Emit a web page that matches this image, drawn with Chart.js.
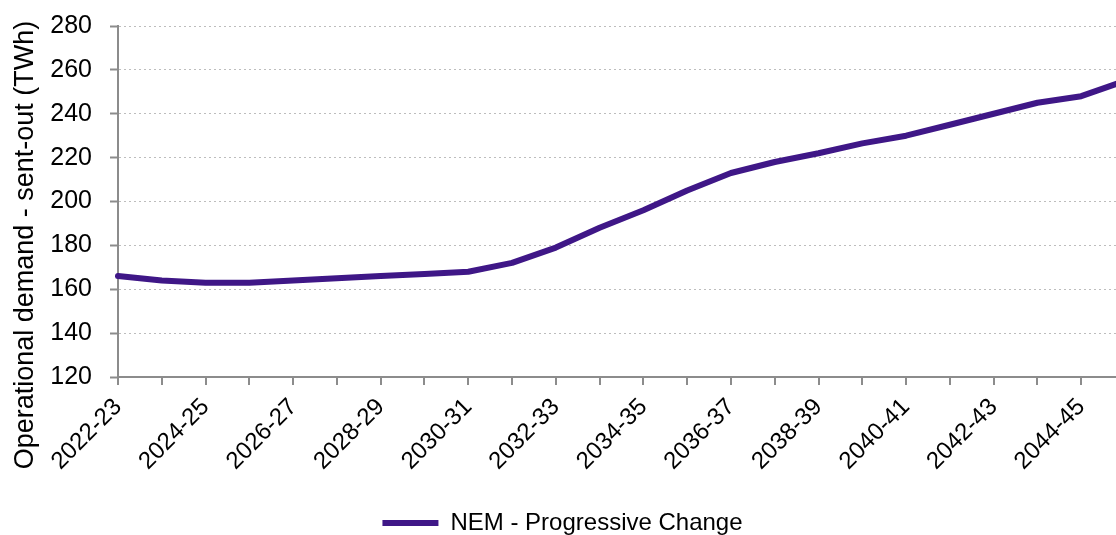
<!DOCTYPE html>
<html>
<head>
<meta charset="utf-8">
<script src="https://cdn.jsdelivr.net/npm/chart.js@4/dist/chart.umd.min.js"></script>
<style>
  html, body { margin: 0; padding: 0; background: #fff; overflow: hidden; }
  #wrap { width: 1116px; height: 535px; overflow: hidden; }
  #box { width: 1160px; height: 535px; }
</style>
</head>
<body>
<div id="wrap"><div id="box"><canvas id="demand"></canvas></div></div>
<script>
var years = ["2022-23", "2023-24", "2024-25", "2025-26", "2026-27", "2027-28", "2028-29", "2029-30",
  "2030-31", "2031-32", "2032-33", "2033-34", "2034-35", "2035-36", "2036-37", "2037-38",
  "2038-39", "2039-40", "2040-41", "2041-42", "2042-43", "2043-44", "2044-45", "2045-46"];
var progressiveChange = [166, 164, 163, 163, 164, 165, 166, 167, 168, 172, 179, 188,
  196, 205, 213, 218, 222, 226.5, 230, 235, 240, 245, 248, 255];
var yTicks = [120, 140, 160, 180, 200, 220, 240, 260, 280];
var yTitle = "Operational demand - sent-out (TWh)";

var font = "'Liberation Sans', Arial, sans-serif";
var purple = "#3f1787";
var axisGrey = "#8c8c8c";

// y title drawn by hand so it can sit lower than the plot centre, like the original
var yTitlePlugin = {
  id: "yTitle",
  afterDraw: function (chart) {
    var ctx = chart.ctx;
    ctx.save();
    ctx.translate(26, 245);
    ctx.rotate(-Math.PI / 2);
    ctx.fillStyle = "#000";
    ctx.font = "27px " + font;
    ctx.textAlign = "center";
    ctx.textBaseline = "middle";
    ctx.fillText(yTitle, 0, 0);
    ctx.restore();
  }
};

new Chart("demand", {
  type: "line",
  data: {
    labels: years,
    datasets: [{
      label: "NEM - Progressive Change",
      data: progressiveChange,
      borderColor: purple,
      backgroundColor: purple,
      borderWidth: 6,
      pointRadius: 0,
      tension: 0,
      borderCapStyle: "round",
      borderJoinStyle: "round"
    }]
  },
  plugins: [yTitlePlugin],
  options: {
    responsive: true,
    maintainAspectRatio: false,
    animation: false,
    layout: { padding: { top: 26, left: 0, right: 35, bottom: -10 } },
    plugins: {
      tooltip: { enabled: false },
      legend: {
        position: "bottom",
        labels: {
          color: "#000",
          font: { family: font, size: 24 },
          usePointStyle: true,
          pointStyle: "line",
          pointStyleWidth: 56,
          padding: 0
        }
      }
    },
    scales: {
      x: {
        offset: false,
        grid: {
          drawOnChartArea: false,
          color: axisGrey,
          tickLength: 8,
          lineWidth: 2
        },
        border: { color: axisGrey, width: 2 },
        ticks: {
          autoSkip: false,
          maxRotation: 45,
          minRotation: 45,
          color: "#000",
          font: { family: font, size: 24 },
          padding: 8,
          callback: function (v, i) { return i % 2 === 0 ? years[i] : ""; }
        },
        afterFit: function (s) { s.height = 134; }
      },
      y: {
        min: 120,
        max: 280,
        afterBuildTicks: function (s) { s.ticks = yTicks.map(function (v) { return { value: v }; }); },
        grid: {
          color: "#bdbdbd",
          tickBorderDash: [],
          tickColor: axisGrey,
          tickLength: 8,
          lineWidth: 1,
          tickWidth: 2
        },
        border: { color: axisGrey, width: 2, dash: [2, 3] },
        ticks: {
          color: "#000",
          font: { family: font, size: 25 },
          padding: 18
        },
        afterFit: function (s) {
          s.width = 118;
          s.paddingTop = 0;
          s.paddingBottom = 0;
        }
      }
    }
  }
});
</script>
</body>
</html>
